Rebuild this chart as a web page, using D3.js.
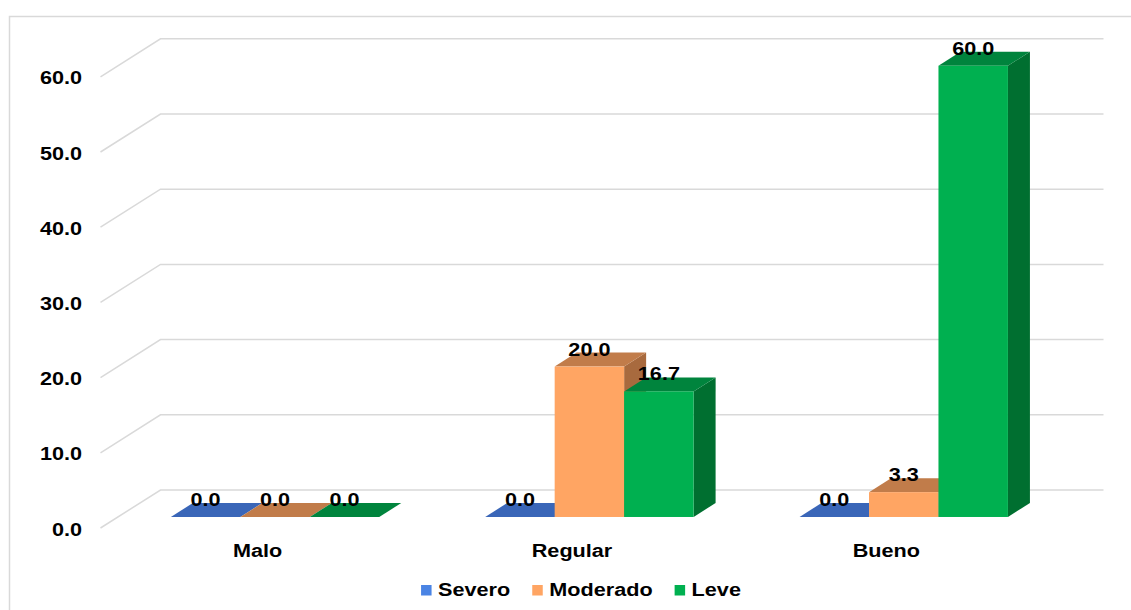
<!DOCTYPE html>
<html>
<head>
<meta charset="utf-8">
<script src="https://cdn.jsdelivr.net/npm/d3@7"></script>
<style>
  html, body { margin: 0; padding: 0; background: #fff; }
  svg { display: block; }
  text { font-family: "Liberation Sans", Arial, sans-serif; font-weight: bold; fill: #000; }
</style>
</head>
<body>
<svg id="chart" width="1131" height="610"></svg>
<script>
// ---- data ----
const categories = ["Malo", "Regular", "Bueno"];
const series = ["Severo", "Moderado", "Leve"];
const severo = [0.0, 0.0, 0.0];
const moderado = [0.0, 20.0, 3.3];
const leve = [0.0, 16.7, 60.0];
const yTicks = [0, 10, 20, 30, 40, 50, 60];

const seriesValues = [severo, moderado, leve];
const colors = {
  Severo:   { front: "#4472C4", top: "#3A66B8", side: "#2F5597", legend: "#4A84E4" },
  Moderado: { front: "#FFA563", top: "#C17C4A", side: "#A86A3E", legend: "#FFA563" },
  Leve:     { front: "#00B050", top: "#00843D", side: "#006F30", legend: "#00B050" }
};

const svg = d3.select("#chart");
const SX = 1.17; // horizontal stretch of text

// frame
svg.append("rect").attr("x", 9.5).attr("y", 16.5).attr("width", 1130).attr("height", 600)
  .attr("fill", "#fff").attr("stroke", "#d9d9d9").attr("stroke-width", 1.5);

// geometry
const left = 100.5, floorY = 528, plotW = 943;
const depthX = 60, depthY = -38;          // wall depth
const f1 = 0.29;                           // bar front depth fraction
const barDX = 22, barDY = -14;             // bar depth
const y = d3.scaleLinear().domain([0, 60]).range([floorY, floorY - 451.2]);

// gridlines (side wall diagonal + back wall)
const grid = svg.append("g");
yTicks.forEach(t => {
  const fy = y(t);
  grid.append("polyline")
    .attr("points", [[left, fy], [left + depthX, fy + depthY], [left + depthX + plotW, fy + depthY]].map(p => p.join(",")).join(" "))
    .attr("fill", "none").attr("stroke", "#d9d9d9").attr("stroke-width", 1.5);
});

// y axis
const yAxis = svg.append("g").attr("transform", "translate(82,0)")
  .call(d3.axisLeft(y).tickValues(yTicks).tickSize(0).tickPadding(0).tickFormat(d3.format(".1f")));
yAxis.select(".domain").remove();
yAxis.selectAll("text")
  .attr("font-size", "18.5px").attr("font-family", "Liberation Sans, Arial, sans-serif")
  .attr("font-weight", "bold").attr("fill", "#000")
  .attr("dy", null).attr("y", 7)
  .attr("transform", `scale(${SX},1)`);

// x scales
const x0 = d3.scaleBand().domain(categories).range([left, left + plotW]).padding(0);
const groupW = x0.bandwidth() * 0.663;
const x1 = d3.scaleBand().domain(series).range([0, groupW]).padding(0);
const groupOff = (x0.bandwidth() - groupW) / 2;

// x axis labels
const xAxis = svg.append("g").attr("transform", `translate(0,${floorY})`)
  .call(d3.axisBottom(x0).tickSize(0).tickPadding(0));
xAxis.select(".domain").remove();
xAxis.selectAll("text")
  .attr("font-size", "18.5px").attr("font-family", "Liberation Sans, Arial, sans-serif")
  .attr("font-weight", "bold").attr("fill", "#000")
  .attr("dy", null).attr("y", 0)
  .attr("transform", `translate(0,29) scale(${SX},1)`);

// bars
const baseY = floorY + depthY * f1;
const baseDX = depthX * f1;
const bars = svg.append("g");
const labels = [];
categories.forEach((c, ci) => {
  series.forEach((s, si) => {
    const v = seriesValues[si][ci];
    const w = x1.bandwidth();
    const xf = x0(c) + groupOff + x1(s) + baseDX;
    const h = floorY - y(v);
    const ty = baseY - h;
    const col = colors[s];
    const pts = a => a.map(p => p.join(",")).join(" ");
    // side
    bars.append("polygon")
      .attr("points", pts([[xf + w, baseY], [xf + w + barDX, baseY + barDY], [xf + w + barDX, ty + barDY], [xf + w, ty]]))
      .attr("fill", col.side);
    // top
    bars.append("polygon")
      .attr("points", pts([[xf, ty], [xf + barDX, ty + barDY], [xf + w + barDX, ty + barDY], [xf + w, ty]]))
      .attr("fill", col.top);
    // front
    if (h > 0) {
      bars.append("rect").attr("x", xf).attr("y", ty).attr("width", w).attr("height", h).attr("fill", col.front);
    }
    labels.push({ x: xf + w / 2, y: ty - 11, t: d3.format(".1f")(v) });
  });
});

svg.append("g").selectAll("text").data(labels).join("text")
  .attr("text-anchor", "middle").attr("font-size", "18.5px")
  .attr("transform", d => `translate(${d.x},${d.y}) scale(${SX},1)`)
  .text(d => d.t);

// legend
const legend = svg.append("g");
const items = series.map(s => {
  const g = legend.append("g");
  g.append("rect").attr("x", 0).attr("y", -11).attr("width", 10.5).attr("height", 10.5).attr("fill", colors[s].legend);
  const t = g.append("text").attr("font-size", "18.5px").attr("transform", `translate(17,0) scale(${SX},1)`).text(s);
  return { g, w: 17 + t.node().getComputedTextLength() * SX };
});
const gap = 22;
const totalW = d3.sum(items, d => d.w) + gap * (items.length - 1);
let lx = 581 - totalW / 2;
items.forEach(it => {
  it.g.attr("transform", `translate(${lx},596)`);
  lx += it.w + gap;
});
</script>
</body>
</html>
